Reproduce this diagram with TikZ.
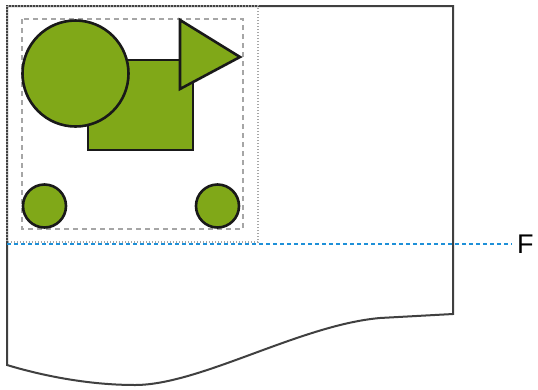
\documentclass[tikz,border=0pt]{standalone}
\usepackage{fontspec}
\setmainfont{Liberation Sans}
\definecolor{leafgreen}{RGB}{128,168,24}
\definecolor{cutblue}{RGB}{30,144,216}
\tikzset{
  shapeout/.style={draw=black!90, line width=2.6pt, fill=leafgreen},
  paperedge/.style={draw=black!75, line width=2pt},
}
\begin{document}
\begin{tikzpicture}[x=1pt, y=-1pt]
  \useasboundingbox (0,0) rectangle (538,389);
  % Papier mit gewellter Unterkante
  \draw[paperedge, fill=white] (7,6) -- (453,6) -- (453,314) -- (380,318)
    .. controls (300,325) and (200,385) .. (135,385)
    .. controls (80,385) and (30,372) .. (7,365) -- cycle;
  % Druckbereich (gepunktet) und Bildrand (gestrichelt)
  \draw[gray!70, line width=1.2pt, dash pattern=on 1.2pt off 1.8pt] (7,6) rectangle (258,242);
  \draw[gray!70, line width=2pt, dash pattern=on 5pt off 4pt] (22,19) rectangle (243,229);
  % Motive
  \draw[shapeout] (88,60) rectangle (193,150);
  \draw[shapeout] (75.5,73.5) circle (53);
  \draw[shapeout] (180,20) -- (240,57) -- (180,89) -- cycle;
  \foreach \cx in {44.5, 217.5}{ \draw[shapeout] (\cx,206) circle (21.5); }
  % Schnittlinie
  \node[font=\fontsize{27}{27}\selectfont, anchor=west, inner sep=0pt] (cutlabel) at (517,244) {F};
  \draw[cutblue, line width=2.6pt, dash pattern=on 4pt off 3pt] (7,244) -- ([xshift=-5pt]cutlabel.west);
\end{tikzpicture}
\end{document}
